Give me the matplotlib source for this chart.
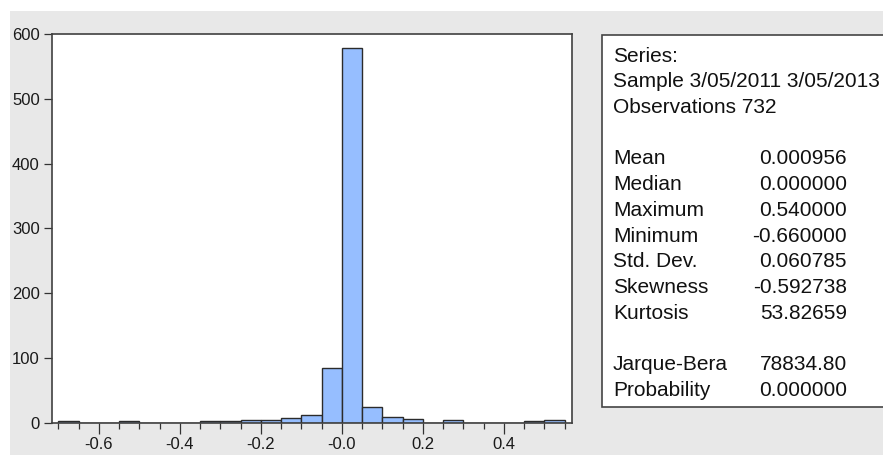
import matplotlib
matplotlib.use("Agg")
import matplotlib.pyplot as plt
from matplotlib.patches import Rectangle
import numpy as np

plt.rcParams["font.family"] = ["Liberation Sans", "DejaVu Sans"]

# Histogramm: venstre kant av hver klasse (bredde 0.05) og antall observasjoner
bin_lefts = [-0.70, -0.65, -0.60, -0.55, -0.50, -0.45, -0.40, -0.35, -0.30,
             -0.25, -0.20, -0.15, -0.10, -0.05, 0.00, 0.05, 0.10, 0.15,
             0.20, 0.25, 0.30, 0.35, 0.40, 0.45, 0.50]
counts = [3, 0, 0, 3, 0, 0, 0, 3, 3,
          5, 5, 8, 13, 85, 579, 24, 10, 6,
          0, 4, 0, 0, 0, 3, 4]
bin_width = 0.05

major_ticks = [-0.6, -0.4, -0.2, 0.0, 0.2, 0.4]
major_labels = ["-0.6", "-0.4", "-0.2", "-0.0", "0.2", "0.4"]
y_ticks = [0, 100, 200, 300, 400, 500, 600]

# Statistikk-boksen til høyre
header_lines = ["Series:", "Sample 3/05/2011 3/05/2013", "Observations 732"]
stat_names = ["Mean", "Median", "Maximum", "Minimum", "Std. Dev.",
              "Skewness", "Kurtosis"]
stat_values = ["0.000956", "0.000000", "0.540000", "-0.660000", "0.060785",
               "-0.592738", "53.82659"]
test_names = ["Jarque-Bera", "Probability"]
test_values = ["78834.80", "0.000000"]

W, H = 883, 455
fig = plt.figure(figsize=(W / 100, H / 100), dpi=100, facecolor="white")

def fx(px):
    return px / W

def fy(py):
    return 1 - py / H

# grå bakgrunn
fig.patches.append(Rectangle((fx(10), 0), 1, fy(11), transform=fig.transFigure,
                             facecolor="#e8e8e8", edgecolor="none", zorder=-10))

ax = fig.add_axes([fx(52), fy(423), fx(572) - fx(52), fy(34) - fy(423)])
ax.set_facecolor("white")

ax.bar(bin_lefts, counts, width=bin_width, align="edge",
       color="#96beff", edgecolor="#2b2b2b", linewidth=1.0, zorder=2)

ax.set_xlim(-0.716, 0.568)
ax.set_ylim(0, 600)

edges = np.round(np.arange(-0.70, 0.551, 0.05), 2)
ax.set_xticks(major_ticks)
ax.set_xticklabels(major_labels)
ax.set_xticks([e for e in edges if not np.isclose(e, major_ticks).any()], minor=True)
ax.set_yticks(y_ticks)

ax.tick_params(axis="x", which="major", direction="out", length=8, width=0.9,
               color="#333333", labelsize=12, labelcolor="#1a1a1a", pad=2)
ax.tick_params(axis="x", which="minor", direction="out", length=4.3, width=0.9,
               color="#333333")
ax.tick_params(axis="y", direction="out", length=5.8, width=0.9,
               color="#333333", labelsize=12, labelcolor="#1a1a1a", pad=3)

for side in ["left", "right", "top", "bottom"]:
    ax.spines[side].set_color("#404040")
    ax.spines[side].set_linewidth(1.2)

# statistikk-boks
fig.patches.append(Rectangle((fx(602), fy(406.7)), 0.5, fy(34.7) - fy(406.7),
                             transform=fig.transFigure, facecolor="white",
                             edgecolor="#444444", linewidth=1.2, zorder=1))

x_lab = fx(613)
x_val = fx(847)
y0 = 61.7
step = 25.7
txt_kw = dict(fontsize=15, color="#111111", va="baseline", zorder=3)

for i, line in enumerate(header_lines):
    fig.text(x_lab, fy(y0 + i * step), line, ha="left", **txt_kw)

for i, (n, v) in enumerate(zip(stat_names, stat_values)):
    yy = fy(y0 + (i + 4) * step)
    fig.text(x_lab, yy, n, ha="left", **txt_kw)
    fig.text(x_val, yy, v, ha="right", **txt_kw)

for i, (n, v) in enumerate(zip(test_names, test_values)):
    yy = fy(y0 + (i + 12) * step)
    fig.text(x_lab, yy, n, ha="left", **txt_kw)
    fig.text(x_val, yy, v, ha="right", **txt_kw)

fig.savefig("out.png", dpi=100, facecolor=fig.get_facecolor())
